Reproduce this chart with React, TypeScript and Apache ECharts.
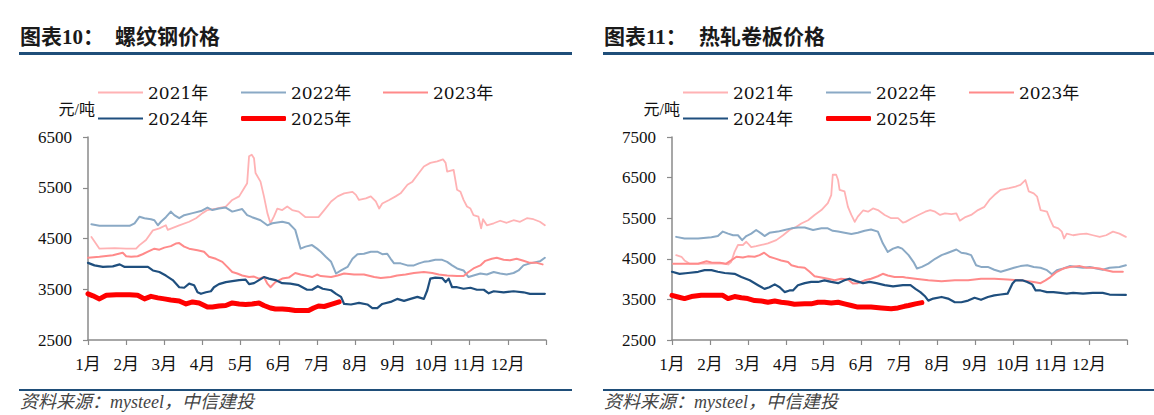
import React, { useEffect, useRef } from "react";
import * as echarts from "echarts";

// ---------- data (x = month position from 1 Jan, y = 元/吨) ----------
const monthLabels = ["1月", "2月", "3月", "4月", "5月", "6月", "7月", "8月", "9月", "10月", "11月", "12月"];
const yearNames = ["2021年", "2022年", "2023年", "2024年", "2025年"];

const rebar2021: [number, number][] = [
  [0.09, 4530], [0.3, 4300], [0.7, 4310], [1.0, 4300], [1.26, 4300], [1.35, 4370], [1.52, 4470], [1.7, 4660], [1.87, 4700], [2.04, 4760], [2.09, 4670], [2.39, 4760], [2.65, 4830], [2.83, 4900], [3.0, 5000], [3.13, 5060], [3.35, 5090], [3.61, 5130], [3.78, 5260], [3.96, 5330], [4.09, 5490], [4.17, 5590], [4.22, 6120], [4.29, 6150], [4.35, 6080], [4.39, 5790], [4.52, 5620], [4.61, 5330], [4.7, 5000], [4.78, 4800], [4.87, 4930], [4.96, 5090], [5.09, 5060], [5.22, 5130], [5.35, 5060], [5.52, 5030], [5.7, 4920], [6.04, 4920], [6.19, 5060], [6.37, 5230], [6.54, 5330], [6.71, 5390], [6.93, 5420], [7.02, 5360], [7.1, 5260], [7.28, 5290], [7.41, 5330], [7.54, 5230], [7.63, 5090], [7.71, 5190], [7.89, 5260], [8.06, 5330], [8.19, 5390], [8.37, 5560], [8.5, 5620], [8.63, 5750], [8.8, 5920], [8.97, 5990], [9.15, 6020], [9.3, 6060], [9.37, 5990], [9.41, 5820], [9.58, 5850], [9.67, 5460], [9.76, 5420], [9.84, 5260], [9.93, 5130], [10.02, 5090], [10.1, 4960], [10.23, 4930], [10.3, 4700], [10.35, 4880], [10.45, 4760], [10.63, 4800], [10.8, 4850], [10.97, 4810], [11.15, 4860], [11.32, 4830], [11.5, 4900], [11.67, 4880], [11.84, 4830], [11.97, 4760],
];
const rebar2022: [number, number][] = [
  [0.09, 4780], [0.3, 4750], [0.7, 4750], [1.09, 4750], [1.22, 4800], [1.35, 4930], [1.48, 4900], [1.65, 4880], [1.74, 4860], [1.83, 4760], [1.91, 4830], [2.04, 4920], [2.17, 5030], [2.26, 4960], [2.39, 4900], [2.52, 4960], [2.74, 5000], [2.96, 5040], [3.13, 5110], [3.26, 5060], [3.43, 5090], [3.61, 5110], [3.78, 5030], [4.04, 5080], [4.17, 4960], [4.3, 4920], [4.52, 4860], [4.7, 4760], [4.83, 4800], [5.09, 4830], [5.26, 4800], [5.43, 4670], [5.57, 4300], [5.7, 4340], [5.87, 4370], [6.0, 4300], [6.1, 4240], [6.23, 4140], [6.37, 4040], [6.5, 3810], [6.63, 3870], [6.8, 3940], [6.93, 4100], [7.06, 4190], [7.23, 4200], [7.41, 4240], [7.58, 4240], [7.71, 4190], [7.84, 4200], [7.93, 4100], [8.02, 4010], [8.19, 4010], [8.37, 3970], [8.54, 3970], [8.67, 4010], [8.8, 4040], [8.93, 4050], [9.1, 4080], [9.28, 4080], [9.41, 4040], [9.54, 3970], [9.67, 3910], [9.84, 3870], [9.97, 3740], [10.1, 3770], [10.28, 3810], [10.45, 3790], [10.63, 3840], [10.8, 3810], [10.97, 3790], [11.15, 3820], [11.28, 3870], [11.41, 3970], [11.58, 4010], [11.84, 4050], [11.97, 4120],
];
const rebar2023: [number, number][] = [
  [0, 4120], [0.3, 4140], [0.65, 4170], [0.91, 4220], [1.0, 4150], [1.13, 4140], [1.3, 4150], [1.43, 4190], [1.57, 4240], [1.74, 4300], [1.87, 4280], [2.0, 4320], [2.17, 4350], [2.3, 4400], [2.39, 4410], [2.52, 4340], [2.65, 4300], [2.87, 4270], [3.04, 4240], [3.17, 4140], [3.35, 4100], [3.52, 4040], [3.65, 3940], [3.78, 3840], [3.91, 3810], [4.04, 3770], [4.22, 3740], [4.35, 3750], [4.48, 3710], [4.61, 3740], [4.7, 3610], [4.78, 3540], [4.91, 3640], [5.09, 3710], [5.26, 3730], [5.43, 3820], [5.57, 3790], [5.7, 3770], [5.87, 3740], [6.0, 3790], [6.1, 3760], [6.37, 3740], [6.54, 3770], [6.71, 3810], [6.97, 3790], [7.23, 3790], [7.5, 3740], [7.67, 3720], [7.93, 3740], [8.1, 3770], [8.32, 3790], [8.54, 3820], [8.8, 3840], [9.02, 3820], [9.19, 3790], [9.41, 3770], [9.67, 3760], [9.84, 3760], [9.97, 3840], [10.1, 3910], [10.28, 3970], [10.41, 4060], [10.58, 4100], [10.71, 4120], [10.89, 4080], [11.06, 4070], [11.23, 4100], [11.41, 4060], [11.58, 4020], [11.76, 4020], [11.91, 3990],
];
const rebar2024: [number, number][] = [
  [0, 4020], [0.17, 3970], [0.39, 3940], [0.65, 3950], [0.83, 3990], [0.96, 3940], [1.26, 3940], [1.57, 3940], [1.7, 3870], [1.87, 3840], [2.04, 3770], [2.22, 3680], [2.39, 3540], [2.52, 3530], [2.65, 3610], [2.78, 3580], [2.87, 3440], [2.96, 3410], [3.09, 3440], [3.22, 3460], [3.3, 3540], [3.43, 3600], [3.61, 3640], [3.78, 3660], [3.96, 3680], [4.13, 3690], [4.22, 3600], [4.35, 3620], [4.48, 3680], [4.61, 3740], [4.74, 3710], [4.91, 3680], [5.09, 3620], [5.3, 3610], [5.52, 3580], [5.74, 3490], [5.87, 3490], [6.02, 3560], [6.15, 3510], [6.37, 3480], [6.5, 3410], [6.63, 3350], [6.71, 3210], [6.89, 3200], [7.1, 3230], [7.32, 3200], [7.45, 3130], [7.58, 3130], [7.71, 3210], [7.93, 3250], [8.1, 3310], [8.28, 3270], [8.45, 3310], [8.63, 3350], [8.8, 3310], [8.89, 3480], [8.97, 3710], [9.1, 3730], [9.28, 3720], [9.37, 3640], [9.45, 3710], [9.54, 3540], [9.67, 3540], [9.84, 3510], [10.02, 3530], [10.19, 3490], [10.37, 3490], [10.5, 3420], [10.63, 3460], [10.89, 3440], [11.15, 3460], [11.41, 3440], [11.58, 3410], [11.84, 3410], [11.97, 3410],
];
const rebar2025: [number, number][] = [
  [0, 3410], [0.13, 3370], [0.3, 3310], [0.48, 3380], [0.74, 3390], [1.09, 3390], [1.3, 3380], [1.48, 3310], [1.65, 3360], [1.83, 3330], [2.0, 3310], [2.17, 3290], [2.39, 3270], [2.57, 3210], [2.74, 3250], [2.91, 3230], [3.13, 3150], [3.26, 3150], [3.43, 3170], [3.61, 3180], [3.78, 3230], [3.96, 3210], [4.13, 3200], [4.3, 3210], [4.48, 3230], [4.61, 3180], [4.78, 3130], [4.91, 3110], [5.09, 3110], [5.26, 3100], [5.43, 3080], [5.61, 3080], [5.78, 3080], [5.91, 3130], [6.04, 3170], [6.19, 3160], [6.37, 3200], [6.58, 3250],
];

const hrc2021: [number, number][] = [
  [0.11, 4590], [0.25, 4550], [0.33, 4460], [0.47, 4380], [0.6, 4380], [0.86, 4380], [1.12, 4380], [1.34, 4380], [1.48, 4360], [1.56, 4420], [1.65, 4670], [1.74, 4840], [1.87, 4840], [1.96, 4920], [2.09, 4790], [2.22, 4810], [2.36, 4840], [2.53, 4880], [2.75, 4960], [2.93, 5080], [3.1, 5210], [3.28, 5290], [3.41, 5370], [3.59, 5450], [3.76, 5580], [3.94, 5700], [4.11, 5870], [4.2, 6070], [4.24, 6570], [4.33, 6570], [4.38, 6440], [4.42, 6200], [4.55, 6160], [4.64, 5780], [4.73, 5580], [4.82, 5410], [4.9, 5540], [5.04, 5690], [5.17, 5660], [5.3, 5740], [5.43, 5700], [5.61, 5580], [5.78, 5500], [5.96, 5500], [6.09, 5390], [6.16, 5410], [6.33, 5500], [6.5, 5580], [6.68, 5660], [6.81, 5700], [6.94, 5660], [7.07, 5580], [7.2, 5620], [7.37, 5600], [7.5, 5620], [7.59, 5440], [7.72, 5520], [7.89, 5580], [8.07, 5700], [8.24, 5780], [8.37, 5950], [8.5, 6070], [8.67, 6200], [8.89, 6240], [9.06, 6280], [9.19, 6320], [9.32, 6440], [9.41, 6160], [9.54, 6110], [9.63, 6030], [9.72, 5700], [9.89, 5660], [9.98, 5450], [10.06, 5290], [10.19, 5250], [10.28, 5170], [10.34, 5000], [10.41, 5120], [10.58, 5080], [10.76, 5110], [10.93, 5120], [11.1, 5080], [11.28, 5040], [11.45, 5080], [11.63, 5170], [11.8, 5120], [11.97, 5040],
];
const hrc2022: [number, number][] = [
  [0.11, 5040], [0.33, 5000], [0.69, 5000], [1.04, 5030], [1.21, 5060], [1.34, 5170], [1.48, 5120], [1.61, 5080], [1.74, 5080], [1.85, 4960], [1.96, 5060], [2.09, 5120], [2.22, 5210], [2.36, 5120], [2.44, 5060], [2.57, 5140], [2.79, 5170], [2.97, 5210], [3.15, 5250], [3.32, 5270], [3.5, 5270], [3.72, 5210], [3.94, 5250], [4.11, 5250], [4.24, 5190], [4.38, 5170], [4.55, 5140], [4.73, 5110], [4.9, 5140], [5.08, 5190], [5.25, 5220], [5.43, 5170], [5.56, 4880], [5.69, 4670], [5.83, 4750], [5.96, 4790], [6.07, 4750], [6.24, 4590], [6.37, 4420], [6.46, 4260], [6.59, 4300], [6.76, 4380], [6.94, 4500], [7.11, 4590], [7.28, 4650], [7.5, 4730], [7.63, 4650], [7.76, 4630], [7.89, 4590], [8.02, 4340], [8.15, 4300], [8.33, 4300], [8.5, 4230], [8.67, 4180], [8.85, 4230], [9.02, 4280], [9.19, 4320], [9.37, 4340], [9.54, 4300], [9.72, 4280], [9.89, 4220], [10.02, 4120], [10.15, 4220], [10.32, 4260], [10.49, 4320], [10.67, 4300], [10.84, 4280], [11.02, 4300], [11.19, 4260], [11.36, 4230], [11.54, 4280], [11.8, 4300], [11.97, 4340],
];
const hrc2023: [number, number][] = [
  [0.03, 4380], [0.33, 4380], [0.69, 4380], [0.91, 4440], [1.04, 4410], [1.26, 4400], [1.43, 4380], [1.56, 4460], [1.7, 4550], [1.87, 4530], [2.0, 4560], [2.18, 4550], [2.31, 4590], [2.43, 4650], [2.57, 4550], [2.71, 4510], [2.88, 4460], [3.06, 4420], [3.15, 4340], [3.32, 4300], [3.5, 4280], [3.63, 4180], [3.76, 4070], [3.94, 4040], [4.11, 4010], [4.29, 3970], [4.46, 4010], [4.64, 3990], [4.77, 3890], [4.9, 3900], [5.08, 3970], [5.25, 4010], [5.43, 4070], [5.56, 4130], [5.69, 4090], [5.87, 4050], [6.09, 4050], [6.16, 4040], [6.42, 4010], [6.76, 3970], [7.11, 3950], [7.46, 3970], [7.81, 3970], [8.15, 4010], [8.5, 4010], [8.85, 3990], [9.19, 3970], [9.54, 3930], [9.72, 3900], [9.85, 3970], [9.98, 4050], [10.15, 4180], [10.32, 4260], [10.49, 4300], [10.76, 4320], [10.93, 4280], [11.1, 4280], [11.28, 4260], [11.45, 4220], [11.63, 4180], [11.89, 4180],
];
const hrc2024: [number, number][] = [
  [0, 4180], [0.2, 4130], [0.42, 4150], [0.69, 4180], [0.86, 4220], [1.04, 4220], [1.21, 4180], [1.39, 4150], [1.65, 4130], [1.83, 4050], [2.05, 3970], [2.27, 3850], [2.44, 3760], [2.57, 3800], [2.71, 3870], [2.84, 3800], [2.97, 3680], [3.1, 3720], [3.19, 3720], [3.32, 3850], [3.5, 3900], [3.67, 3930], [3.85, 3930], [4.02, 3970], [4.2, 3930], [4.38, 3900], [4.55, 3970], [4.68, 4010], [4.86, 3950], [5.04, 3900], [5.21, 3930], [5.39, 3900], [5.61, 3850], [5.83, 3820], [6.09, 3850], [6.29, 3850], [6.42, 3760], [6.55, 3680], [6.68, 3570], [6.76, 3470], [6.89, 3520], [7.11, 3560], [7.28, 3520], [7.46, 3430], [7.63, 3430], [7.81, 3470], [7.98, 3540], [8.15, 3490], [8.33, 3560], [8.5, 3600], [8.67, 3620], [8.85, 3640], [8.98, 3890], [9.06, 3970], [9.24, 3970], [9.37, 3930], [9.5, 3870], [9.59, 3720], [9.72, 3720], [9.89, 3680], [10.06, 3680], [10.24, 3660], [10.41, 3640], [10.58, 3660], [10.84, 3640], [11.1, 3660], [11.36, 3660], [11.54, 3620], [11.97, 3610],
];
const hrc2025: [number, number][] = [
  [0, 3600], [0.16, 3560], [0.33, 3520], [0.51, 3570], [0.77, 3600], [1.12, 3600], [1.34, 3600], [1.48, 3520], [1.65, 3570], [1.83, 3540], [2.0, 3520], [2.18, 3470], [2.36, 3460], [2.53, 3430], [2.71, 3460], [2.88, 3430], [3.06, 3410], [3.23, 3380], [3.5, 3390], [3.67, 3390], [3.85, 3430], [4.02, 3430], [4.2, 3410], [4.38, 3430], [4.55, 3390], [4.73, 3350], [4.9, 3310], [5.08, 3310], [5.25, 3310], [5.52, 3290], [5.78, 3270], [5.96, 3290], [6.13, 3330], [6.24, 3350], [6.42, 3390], [6.59, 3420],
];

const rebarYTicks = [2500, 3500, 4500, 5500, 6500];
const hrcYTicks = [2500, 3500, 4500, 5500, 6500, 7500];

// ---------- styles ----------
const colors = ["#FFB2B4", "#8AA9C5", "#FF8A8A", "#1F4F7E", "#FF0000"];
const widths = [1.8, 2, 2, 2.2, 5];
const SERIF = "'Liberation Serif', 'Times New Roman', 'Noto Sans CJK SC', serif";
const LEG_FONT = "'DejaVu Serif', 'Noto Sans CJK SC', serif";
const RULE = "#1F4E79";

function App() {
  const ref = useRef<HTMLDivElement>(null);

  useEffect(() => {
    if (!ref.current) return;
    const chart = echarts.init(ref.current, null, { renderer: "svg" });

    const charts = [
      { data: [rebar2021, rebar2022, rebar2023, rebar2024, rebar2025], ticks: rebarYTicks, grid: { left: 88, top: 137, width: 458, height: 203 } },
      { data: [hrc2021, hrc2022, hrc2023, hrc2024, hrc2025], ticks: hrcYTicks, grid: { left: 672, top: 137, width: 455, height: 203 } },
    ];

    const axisLine = { lineStyle: { color: "#8a8a8a", width: 1.5 } };
    const axisTick = { length: 5, lineStyle: { color: "#8a8a8a", width: 1.2 } };

    const xAxis = charts.map((_, i) => ({
      type: "value",
      gridIndex: i,
      min: 0,
      max: 12,
      interval: 1,
      axisLine,
      axisTick,
      splitLine: { show: false },
      axisLabel: {
        margin: 16,
        color: "#111",
        fontSize: 17,
        fontFamily: SERIF,
        formatter: (v: number) => (v < 12 ? monthLabels[v] : ""),
      },
    }));
    const yAxis = charts.map((c, i) => ({
      type: "value",
      gridIndex: i,
      min: c.ticks[0],
      max: c.ticks[c.ticks.length - 1],
      interval: c.ticks[1] - c.ticks[0],
      axisLine: { show: true, ...axisLine },
      axisTick: { show: true, ...axisTick },
      splitLine: { show: false },
      axisLabel: {
        margin: 16,
        color: "#111",
        fontSize: 17,
        fontFamily: SERIF,
        formatter: (v: number) => String(v),
      },
    }));

    const series: any[] = [];
    charts.forEach((c, ci) => {
      c.data.forEach((d, k) => {
        series.push({
          type: "line",
          name: yearNames[k],
          xAxisIndex: ci,
          yAxisIndex: ci,
          data: d,
          showSymbol: false,
          symbol: "none",
          z: 2 + k,
          itemStyle: { color: colors[k] },
          lineStyle: { color: colors[k], width: widths[k], cap: "round", join: "round" },
        });
      });
    });

    // legends: positions [left, top] per chart
    const legendPos = [
      [[98, 84], [241, 84], [383, 84], [98, 110], [241, 110]],
      [[683, 84], [826, 84], [969, 84], [683, 110], [826, 110]],
    ];
    const legend: any[] = [];
    legendPos.forEach((pos) => {
      pos.forEach((p, k) => {
        legend.push({
          data: [yearNames[k]],
          left: p[0],
          top: p[1],
          icon: k === 4 ? "roundRect" : "rect",
          itemWidth: 45,
          itemHeight: k === 4 ? 5 : 2,
          padding: 0,
          selectedMode: false,
          textStyle: { fontSize: 17, fontFamily: LEG_FONT, color: "#111" },
        });
      });
    });

    const texts = (x0: number, ruleEnd: number, num: string, name: string, unitX: number) => [
      { type: "text", x: x0 + 1, y: 37, style: { text: num, font: `bold 21px ${SERIF}`, fill: "#1a1a1a", verticalAlign: "middle" } },
      { type: "text", x: x0 + 96, y: 37, style: { text: name, font: `bold 21px ${SERIF}`, fill: "#1a1a1a", verticalAlign: "middle" } },
      { type: "line", shape: { x1: x0, y1: 53.5, x2: ruleEnd, y2: 53.5 }, style: { stroke: RULE, lineWidth: 3 } },
      { type: "text", x: unitX, y: 109, style: { text: "元/吨", font: `16px ${SERIF}`, fill: "#111", align: "right", verticalAlign: "middle" } },
      { type: "line", shape: { x1: x0, y1: 390, x2: ruleEnd, y2: 390 }, style: { stroke: RULE, lineWidth: 2 } },
      { type: "text", x: x0 + 1, y: 402, style: { text: "资料来源：mysteel，中信建投", font: `italic 18px ${SERIF}`, fill: "#444", verticalAlign: "middle" } },
    ];

    chart.setOption({
      animation: false,
      backgroundColor: "#fff",
      grid: charts.map((c) => c.grid),
      xAxis,
      yAxis,
      legend,
      series,
      graphic: [
        ...texts(19, 572, "图表10：", "螺纹钢价格", 95),
        ...texts(603, 1154, "图表11：", "热轧卷板价格", 680),
      ],
    });

    return () => chart.dispose();
  }, []);

  return <div ref={ref} style={{ position: "fixed", left: 0, top: 0, width: 1154, height: 415 }} />;
}

export default App;
